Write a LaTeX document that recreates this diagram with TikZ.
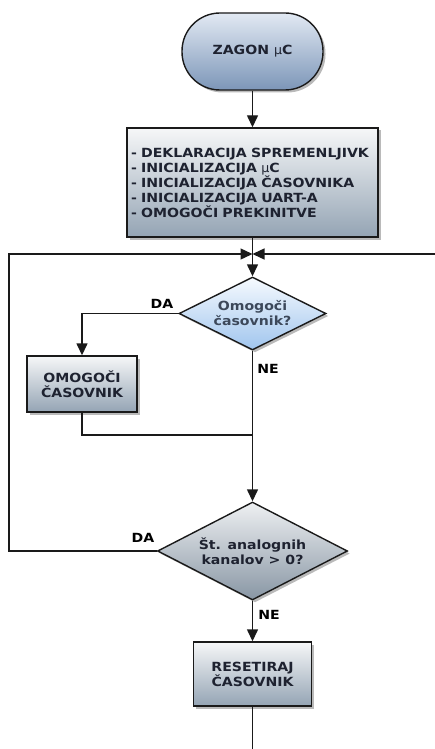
\documentclass[tikz,border=0pt]{standalone}
\usepackage{fontspec}
\setmainfont{DejaVu Sans}
\newfontfamily\wideb[FakeStretch=1.12]{DejaVu Sans Bold}
\usetikzlibrary{arrows.meta,shapes.geometric,shadows}
\definecolor{edgec}{HTML}{1A1A1A}
\definecolor{txtc}{HTML}{1E2230}
\begin{document}
\begin{tikzpicture}[x=1pt,y=-1pt,
  flow/.style={line width=1.4pt, draw=edgec},
  arr/.style={flow, -{Triangle[length=12pt,width=11pt]}},
  shad/.style={drop shadow={shadow xshift=2.5pt, shadow yshift=-2.5pt, opacity=0.45, fill=black!60}},
  txt/.style={font=\wideb\fontsize{12.6}{15}\selectfont, text=txtc},
  term/.style={shad, txt, draw=edgec, line width=1.4pt, rounded corners=38pt,
    top color={rgb,255:red,226;green,233;blue,243}, bottom color={rgb,255:red,124;green,150;blue,184},
    minimum width=141pt, minimum height=77pt, inner sep=0pt},
  proc/.style={shad, txt, draw=edgec, line width=1.4pt, align=center,
    top color={rgb,255:red,246;green,247;blue,248}, bottom color={rgb,255:red,148;green,164;blue,180},
    inner sep=4pt},
  dec/.style={shad, txt, draw=edgec, line width=1.4pt, diamond, aspect=2, inner sep=0pt, align=center},
  lbl/.style={font=\wideb\fontsize{12.6}{14}\selectfont, text=black, inner sep=0pt}
]
\useasboundingbox (0,0) rectangle (435,749);

\node[term] (start) at (252.5,51.5) {ZAGON {\fontspec{DejaVu Sans}µ}C};
\node[proc, align=left, text width=243pt, minimum height=109pt] (init) at (252.5,182.5)
  {- DEKLARACIJA SPREMENLJIVK\\- INICIALIZACIJA {\fontspec{DejaVu Sans}µ}C\\- INICIALIZACIJA ČASOVNIKA\\- INICIALIZACIJA UART-A\\- OMOGOČI PREKINITVE};
\coordinate (j) at (252.5,254);
\coordinate (rin) at (435,254);
\node[dec, minimum width=147pt, minimum height=73pt, text={rgb,255:red,60;green,72;blue,90},
  top color={rgb,255:red,246;green,250;blue,254}, bottom color={rgb,255:red,160;green,197;blue,238}]
  (d1) at (252.5,313.5) {Omogoči\\časovnik?};
\node[proc, minimum width=110pt, minimum height=56pt] (en) at (82,384) {OMOGOČI\\ČASOVNIK};
\coordinate (m) at (252.5,435);
\node[dec, minimum width=190pt, minimum height=98pt,
  top color={rgb,255:red,238;green,240;blue,242}, bottom color={rgb,255:red,136;green,150;blue,164}]
  (d2) at (252.5,551) {Št. analognih\\kanalov > 0?};
\coordinate (lc) at (9,400);
\node[proc, minimum width=118pt, minimum height=64pt] (rst) at (252.5,674) {RESETIRAJ\\ČASOVNIK};
\coordinate (fin) at (252.5,749);

\node[lbl] (da1) at (162,304) {DA};
\node[lbl] (ne1) at (268,369) {NE};
\node[lbl] (da2) at (143,538) {DA};
\node[lbl] (ne2) at (269,615) {NE};

\draw[arr] (start) -- (init);
\draw[arr] (init) -- (d1);
\draw[arr] (rin) -- (j);
\draw[arr] (d2.west) -| (lc) |- (j);
\draw[arr] (d1.west) -| (en.north);
\draw[flow] (en.south) |- (m);
\draw[arr] (d1.south) -- (d2.north);
\draw[arr] (d2.south) -- (rst.north);
\draw[flow] (rst.south) -- (fin);
\end{tikzpicture}
\end{document}
